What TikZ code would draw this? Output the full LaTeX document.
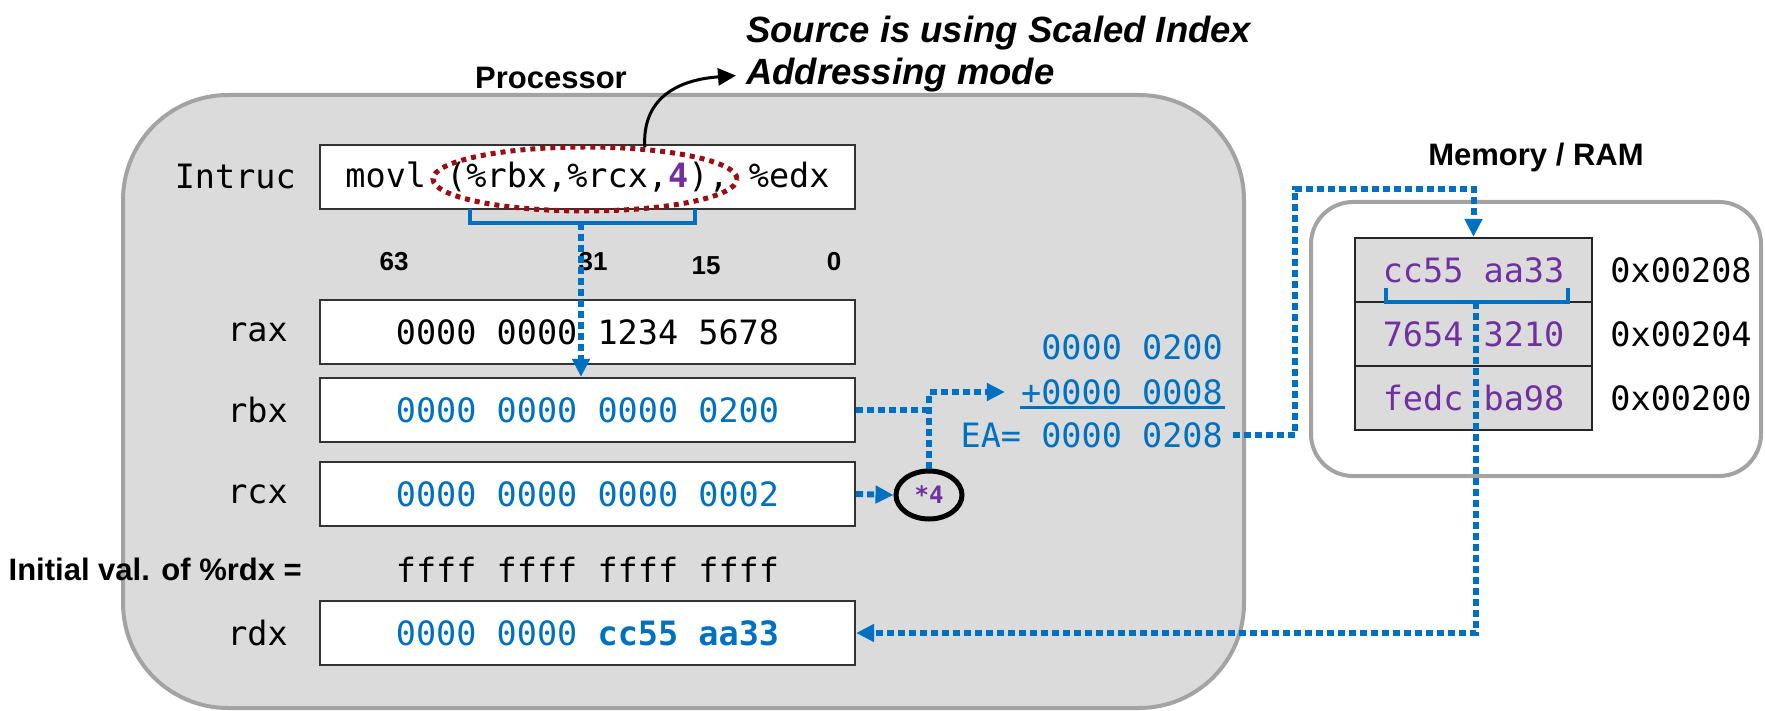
\documentclass[tikz,border=0pt]{standalone}
\usepackage{fontspec}
\setmainfont{Liberation Sans}
\newfontfamily\codefont{DejaVu Sans Mono}
\usetikzlibrary{arrows.meta,shapes.geometric,calc}

\definecolor{panelgray}{HTML}{DBDBDB}
\definecolor{rimgray}{HTML}{A3A3A3}
\definecolor{flowblue}{HTML}{0070C0}
\definecolor{cellpurple}{HTML}{7030A0}
\definecolor{markred}{HTML}{9A0E12}

\newcommand\codesize{\codefont\fontsize{33.5}{40}\selectfont}
\newcommand\headsize{\bfseries\fontsize{31}{37}\selectfont}

\tikzset{
  regbox/.style={draw=black!80, line width=2.2pt, fill=white, minimum width=535pt,
    minimum height=64pt, inner sep=0pt, font=\codesize},
  reglabel/.style={anchor=east, inner sep=0pt, font=\codesize},
  memcell/.style={draw=black!85, line width=2.2pt, fill=panelgray, minimum width=237pt,
    minimum height=64pt, inner sep=0pt, text=cellpurple, font=\codesize},
  addr/.style={inner sep=0pt, font=\codesize},
  bitno/.style={anchor=base, inner sep=0pt, font=\bfseries\fontsize{26}{30}\selectfont},
  sumline/.style={anchor=east, inner sep=0pt, text=flowblue, font=\codesize},
  heading/.style={anchor=base, inner sep=0pt, font=\headsize},
  note/.style={anchor=base west, inner sep=0pt, font=\bfseries\itshape\fontsize{36.5}{42}\selectfont},
  dotline/.style={flowblue, line width=6pt, dash pattern=on 7pt off 4pt},
  flow/.style={dotline, -{Triangle[length=18pt,width=17pt]}},
  brace/.style={flowblue, line width=4pt},
}

\begin{document}
\begin{tikzpicture}[x=1pt,y=-1pt]
\clip (0,0) rectangle (1765,711);

% processor and memory panels
\draw[fill=panelgray, draw=rimgray, line width=4pt, rounded corners=105pt]
  (123,95) rectangle (1244,708);
\draw[fill=white, draw=rimgray, line width=4pt, rounded corners=42pt]
  (1311,202) rectangle (1761,476);

% headings
\node[note] (note1) at (746,43) {Source is using Scaled Index};
\node[note] (note2) at (746,85) {Addressing mode};
\node[heading] (proc) at (551,89) {Processor};
\node[heading] (mem) at (1536,166) {Memory / RAM};

% instruction
\node[regbox] (ins) at (587.5,177)
  {movl (\%rbx,\%rcx,{\bfseries\color{cellpurple}4}), \%edx};
\node[reglabel] (insl) at (296,177) {Intruc};

% bit positions
\node[bitno] (b63) at (394,271) {63};
\node[bitno] (b31) at (593,271) {31};
\node[bitno] (b15) at (706,275) {15};
\node[bitno] (b0)  at (834,271) {0};

% registers
\node[regbox] (rax) at (587.5,332) {0000 0000 1234 5678};
\node[reglabel] (raxl) at (288,332) {rax};
\node[regbox, text=flowblue] (rbx) at (587.5,410) {0000 0000 0000 0200};
\node[reglabel] (rbxl) at (288,410) {rbx};
\node[regbox, text=flowblue] (rcx) at (587.5,494) {0000 0000 0000 0002};
\node[reglabel] (rcxl) at (288,494) {rcx};
\node[anchor=base east, inner sep=0pt, font=\bfseries\fontsize{31}{36}\selectfont]
  (initl) at (302,580) {Initial val. of \%rdx =};
\node[inner sep=0pt, font=\codesize] (init) at (587.5,570) {ffff ffff ffff ffff};
\node[regbox, text=flowblue] (rdx) at (587.5,633) {0000 0000 {\bfseries cc55 aa33}};
\node[reglabel] (rdxl) at (288,633) {rdx};

% source operand marker
\node[ellipse, draw=markred, line width=5pt, dash pattern=on 5pt off 5pt,
  minimum width=304pt, minimum height=64pt, inner sep=0pt] (ring) at (585,179) {};
\draw[line width=3pt, -{Triangle[length=18pt,width=17pt]}]
  (ring.28) .. controls (642,100) and (675,80) .. ([xshift=-10pt]note2.west);

% brackets
\draw[brace] (470,209) -- (470,223) -- (695,223) -- (695,209);
\coordinate (insbr) at (581,223);

% address arithmetic
\node[sumline] (opA) at (1223,347) {0000 0200};
\node[sumline] (opB) at (1223,392) {+0000 0008};
\draw[flowblue, line width=3pt] (1020,407) -- (1225,407);
\node[sumline] (ea) at (1223,435) {EA= 0000 0208};
\node[ellipse, draw=black, line width=5pt, minimum width=66pt, minimum height=48pt,
  inner sep=0pt, text=cellpurple, font=\codefont\bfseries\fontsize{24}{28}\selectfont]
  (mul) at (929,495) {*4};

% memory cells
\node[memcell] (c1) at (1473.5,270) {cc55 aa33};
\node[memcell] (c2) at (1473.5,334) {7654 3210};
\node[memcell] (c3) at (1473.5,398) {fedc ba98};
\node[addr] (a1) at (1681,270) {0x00208};
\node[addr] (a2) at (1681,334) {0x00204};
\node[addr] (a3) at (1681,398) {0x00200};
\draw[brace] (1386,288) -- (1386,302) -- (1568,302) -- (1568,288);
\coordinate (membr) at (1476,302);

% data flow
\draw[flow] (insbr) -- (insbr |- rbx.north);
\draw[dotline] (rbx.east) -- (rbx.east -| mul.north);
\draw[flow] (mul.north) |- ([xshift=-16pt]opB.west);
\draw[flow] (rcx.east) -- (mul.west);
\draw[flow] ([xshift=10pt]ea.east) -- ++(62,0) |- ($(c1.north)+(0,-48)$) -- (c1.north);
\draw[flow] (membr) |- (rdx.east);
\end{tikzpicture}
\end{document}
